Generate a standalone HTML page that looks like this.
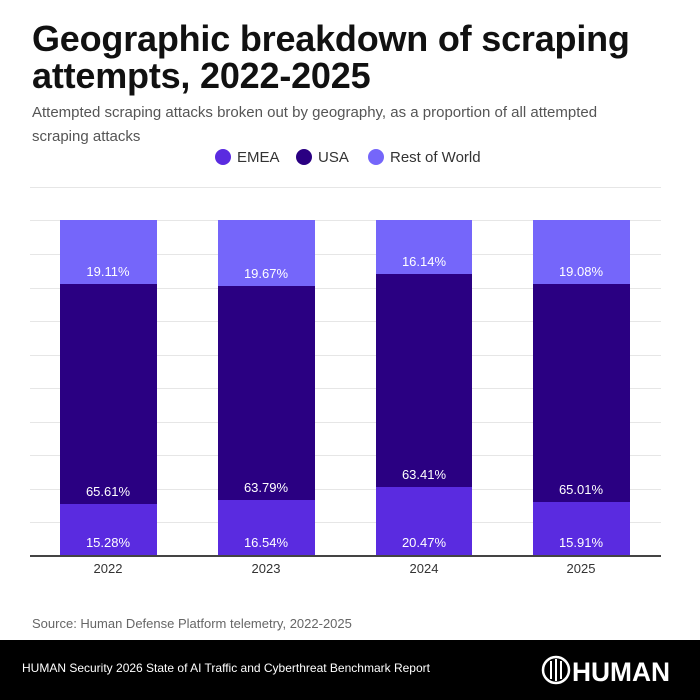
<!DOCTYPE html>
<html><head><meta charset="utf-8"><style>
body{margin:0;width:700px;height:700px;background:#fff;font-family:"Liberation Sans",sans-serif;position:relative;overflow:hidden}
.t{position:absolute;left:32px;top:20px;font-size:36px;font-weight:bold;line-height:37px;color:#111;letter-spacing:-0.2px}
.s{position:absolute;left:32px;top:101px;font-size:15px;line-height:24px;color:#555;width:600px}
.f{position:absolute;left:0;top:640px;width:700px;height:60px;background:#000;color:#fff}
</style></head><body>
<div class="t">Geographic breakdown of scraping<br>attempts, 2022-2025</div>
<div class="s">Attempted scraping attacks broken out by geography, as a proportion of all attempted scraping attacks</div>
<svg width="700" height="640" style="position:absolute;left:0;top:0" font-family="Liberation Sans, sans-serif">
<g font-size="15" fill="#333">
<circle cx="223" cy="157" r="8" fill="#5a2be0"/><text x="237" y="162">EMEA</text>
<circle cx="304" cy="157" r="8" fill="#2a0082"/><text x="318" y="162">USA</text>
<circle cx="376" cy="157" r="8" fill="#7566fa"/><text x="390" y="162">Rest of World</text>
</g>
<g stroke="#e6e6e6" stroke-width="1">
<line x1="30" x2="661" y1="187.5" y2="187.5"/><line x1="30" x2="661" y1="220.5" y2="220.5"/><line x1="30" x2="661" y1="254.5" y2="254.5"/><line x1="30" x2="661" y1="288.5" y2="288.5"/><line x1="30" x2="661" y1="321.5" y2="321.5"/><line x1="30" x2="661" y1="355.5" y2="355.5"/><line x1="30" x2="661" y1="388.5" y2="388.5"/><line x1="30" x2="661" y1="422.5" y2="422.5"/><line x1="30" x2="661" y1="455.5" y2="455.5"/><line x1="30" x2="661" y1="489.5" y2="489.5"/><line x1="30" x2="661" y1="522.5" y2="522.5"/>
</g>
<g>
<rect x="60" y="220" width="97" height="64" fill="#7566fa"/><rect x="60" y="284" width="97" height="220" fill="#2a0082"/><rect x="60" y="504" width="97" height="51" fill="#5a2be0"/>
<rect x="218" y="220" width="97" height="66" fill="#7566fa"/><rect x="218" y="286" width="97" height="214" fill="#2a0082"/><rect x="218" y="500" width="97" height="55" fill="#5a2be0"/>
<rect x="376" y="220" width="96" height="54" fill="#7566fa"/><rect x="376" y="274" width="96" height="213" fill="#2a0082"/><rect x="376" y="487" width="96" height="68" fill="#5a2be0"/>
<rect x="533" y="220" width="97" height="64" fill="#7566fa"/><rect x="533" y="284" width="97" height="218" fill="#2a0082"/><rect x="533" y="502" width="97" height="53" fill="#5a2be0"/>
</g>
<g font-size="13" fill="#fff" text-anchor="middle">
<text x="108" y="276">19.11%</text><text x="108" y="496">65.61%</text><text x="108" y="547">15.28%</text>
<text x="266" y="278">19.67%</text><text x="266" y="492">63.79%</text><text x="266" y="547">16.54%</text>
<text x="424" y="266">16.14%</text><text x="424" y="479">63.41%</text><text x="424" y="547">20.47%</text>
<text x="581" y="276">19.08%</text><text x="581" y="494">65.01%</text><text x="581" y="547">15.91%</text>
</g>
<line x1="30" x2="661" y1="556" y2="556" stroke="#444" stroke-width="2"/>
<g font-size="13" fill="#333" text-anchor="middle">
<text x="108" y="573">2022</text><text x="266" y="573">2023</text><text x="424" y="573">2024</text><text x="581" y="573">2025</text>
</g>
<text x="32" y="628" font-size="13" fill="#666">Source: Human Defense Platform telemetry, 2022-2025</text>
</svg>
<div class="f">
<div style="position:absolute;left:22px;top:21px;font-size:12px">HUMAN Security 2026 State of AI Traffic and Cyberthreat Benchmark Report</div>
<svg width="140" height="40" style="position:absolute;left:536px;top:10px">
<circle cx="20" cy="20" r="13" fill="none" stroke="#fff" stroke-width="2.5"/>
<g stroke="#fff" stroke-width="2"><line x1="15" y1="11" x2="15" y2="29"/><line x1="20" y1="9" x2="20" y2="31"/><line x1="25" y1="11" x2="25" y2="29"/></g>
<text x="36" y="31" font-family="Liberation Sans, sans-serif" font-weight="bold" font-size="27" fill="#fff" textLength="98" lengthAdjust="spacingAndGlyphs">HUMAN</text>
</svg>
</div>
</body></html>
